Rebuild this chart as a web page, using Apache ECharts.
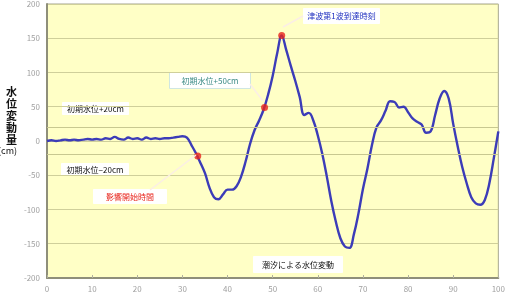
<!DOCTYPE html>
<html>
<head>
<meta charset="utf-8">
<script src="https://cdn.jsdelivr.net/npm/echarts@6/dist/echarts.min.js"></script>
<style>
  html, body { margin: 0; padding: 0; background: #fff; }
  #main { width: 508px; height: 293px; }
</style>
</head>
<body>
<div id="main"></div>
<script>
// 経過時間（横軸）と水位変動量（cm）
var times = [0, 1, 2, 3, 4, 5, 6, 7, 8, 9, 10, 11, 12, 13, 14, 15, 16, 17, 18, 19,
  20, 21, 22, 23, 24, 25, 26, 27, 28, 29, 30, 31, 32, 33, 34, 35, 36, 37, 38, 39,
  40, 41, 42, 43, 44, 45, 46, 47, 48, 49, 50, 51, 52, 53, 54, 55, 56, 57, 58, 59,
  60, 61, 62, 63, 64, 65, 66, 67, 68, 69, 70, 71, 72, 73, 74, 75, 76, 77, 78, 79,
  80, 81, 82, 83, 84, 85, 86, 87, 88, 89, 90, 91, 92, 93, 94, 95, 96, 97, 98, 99, 100];
var levels = [0, 1, 0, 1, 2, 1, 2, 1, 2, 3, 2, 3, 2, 4, 3, 6, 3, 2, 5, 3,
  4, 2, 5, 3, 4, 3, 4, 4, 5, 6, 7, 5, -6, -18, -32, -47, -68, -82, -85, -78,
  -71, -71, -66, -52, -30, -4, 16, 30, 46, 68, 95, 128, 154, 133, 110, 88, 64, 38, 41, 30,
  8, -19, -52, -88, -118, -142, -154, -156, -136, -106, -70, -40, -6, 20, 30, 44, 58, 57, 49, 50,
  42, 33, 28, 24, 12, 14, 38, 62, 73, 62, 25, -8, -38, -62, -82, -91, -93, -86, -62, -25, 14];

// 注目点（影響開始・+50cm・第1波到達）
var markTimes = [33.4, 48.2, 52];
var markLevels = [-22, 49, 154];

var jp = '"Noto Sans CJK JP", sans-serif';

var chart = echarts.init(document.getElementById('main'));

var lineData = times.map(function (t, i) { return [t, levels[i]]; });
var markData = markTimes.map(function (t, i) { return [t, markLevels[i]]; });

function box(x, y, w, h, text, color, border) {
  return {
    type: 'group', left: x, top: y, z: 100,
    children: [
      { type: 'rect', shape: { x: 0, y: 0, width: w, height: h },
        style: { fill: '#ffffff', stroke: border || '#ffffff', lineWidth: 1 } },
      { type: 'text', x: w / 2, y: h / 2,
        style: { text: text, fill: color, font: '8px ' + jp, align: 'center', verticalAlign: 'middle' } }
    ]
  };
}

function leader(x1, y1, x2, y2) {
  return { type: 'line', z: 90, shape: { x1: x1, y1: y1, x2: x2, y2: y2 },
    style: { stroke: '#fbeee6', lineWidth: 1.5 } };
}

var option = {
  animation: false,
  backgroundColor: '#ffffff',
  grid: {
    left: 47, right: 7, top: -2, bottom: 15,
    show: true, backgroundColor: '#ffffc6', borderColor: '#a8a890', borderWidth: 1
  },
  xAxis: {
    type: 'value', min: 0, max: 100, interval: 10,
    axisLine: { show: true, onZero: false, lineStyle: { color: '#8f8f7a', width: 2 } },
    axisTick: { show: true, inside: true, length: 3, lineStyle: { color: '#b0b0a0' } },
    axisLabel: { color: '#a0a0a0', fontSize: 8, margin: 7, fontFamily: jp },
    splitLine: { show: false }
  },
  yAxis: {
    type: 'value', min: -200, max: 200, interval: 50,
    axisLine: { show: true, lineStyle: { color: '#8f8f7a', width: 2 } },
    axisTick: { show: false },
    axisLabel: { color: '#a0a0a0', fontSize: 8, margin: 7, fontFamily: jp },
    splitLine: { show: true, lineStyle: { color: '#cfcf9a', width: 1 } }
  },
  series: [
    {
      type: 'line', data: lineData, smooth: 0.4, symbol: 'none',
      lineStyle: { color: '#3c3cb8', width: 2.4 },
      markLine: {
        silent: true, symbol: 'none', label: { show: false },
        lineStyle: { color: '#c8c890', type: 'solid', width: 1 },
        data: [{ yAxis: 20 }, { yAxis: -20 }]
      },
      z: 3
    },
    {
      type: 'scatter', data: markData, symbolSize: 7,
      itemStyle: { color: '#e8241c' }, z: 5
    }
  ],
  graphic: [
    leader(150, 190, 196, 155),
    leader(250, 84, 263, 101),
    leader(283, 27, 303, 16),
    box(62, 102, 66, 12, '初期水位+20cm', '#111111'),
    box(61, 163, 67, 12, '初期水位−20cm', '#111111'),
    box(93, 189, 73, 14, '影響開始時間', '#e8241c'),
    box(169, 72, 81, 16, '初期水位+50cm', '#3a8a84', '#cfe6e2'),
    box(303, 8, 76, 15, '津波第1波到達時刻', '#2030c0'),
    box(253, 256, 89, 16, '潮汐による水位変動', '#111111'),
    { type: 'text', left: 6, top: 86, z: 100,
      style: { text: '水\n位\n変\n動\n量', fill: '#111', font: 'bold 11px ' + jp, lineHeight: 12 } },
    { type: 'text', left: -2, top: 146, z: 100,
      style: { text: '(cm)', fill: '#111', font: '9px ' + jp } }
  ]
};

chart.setOption(option);
</script>
</body>
</html>
